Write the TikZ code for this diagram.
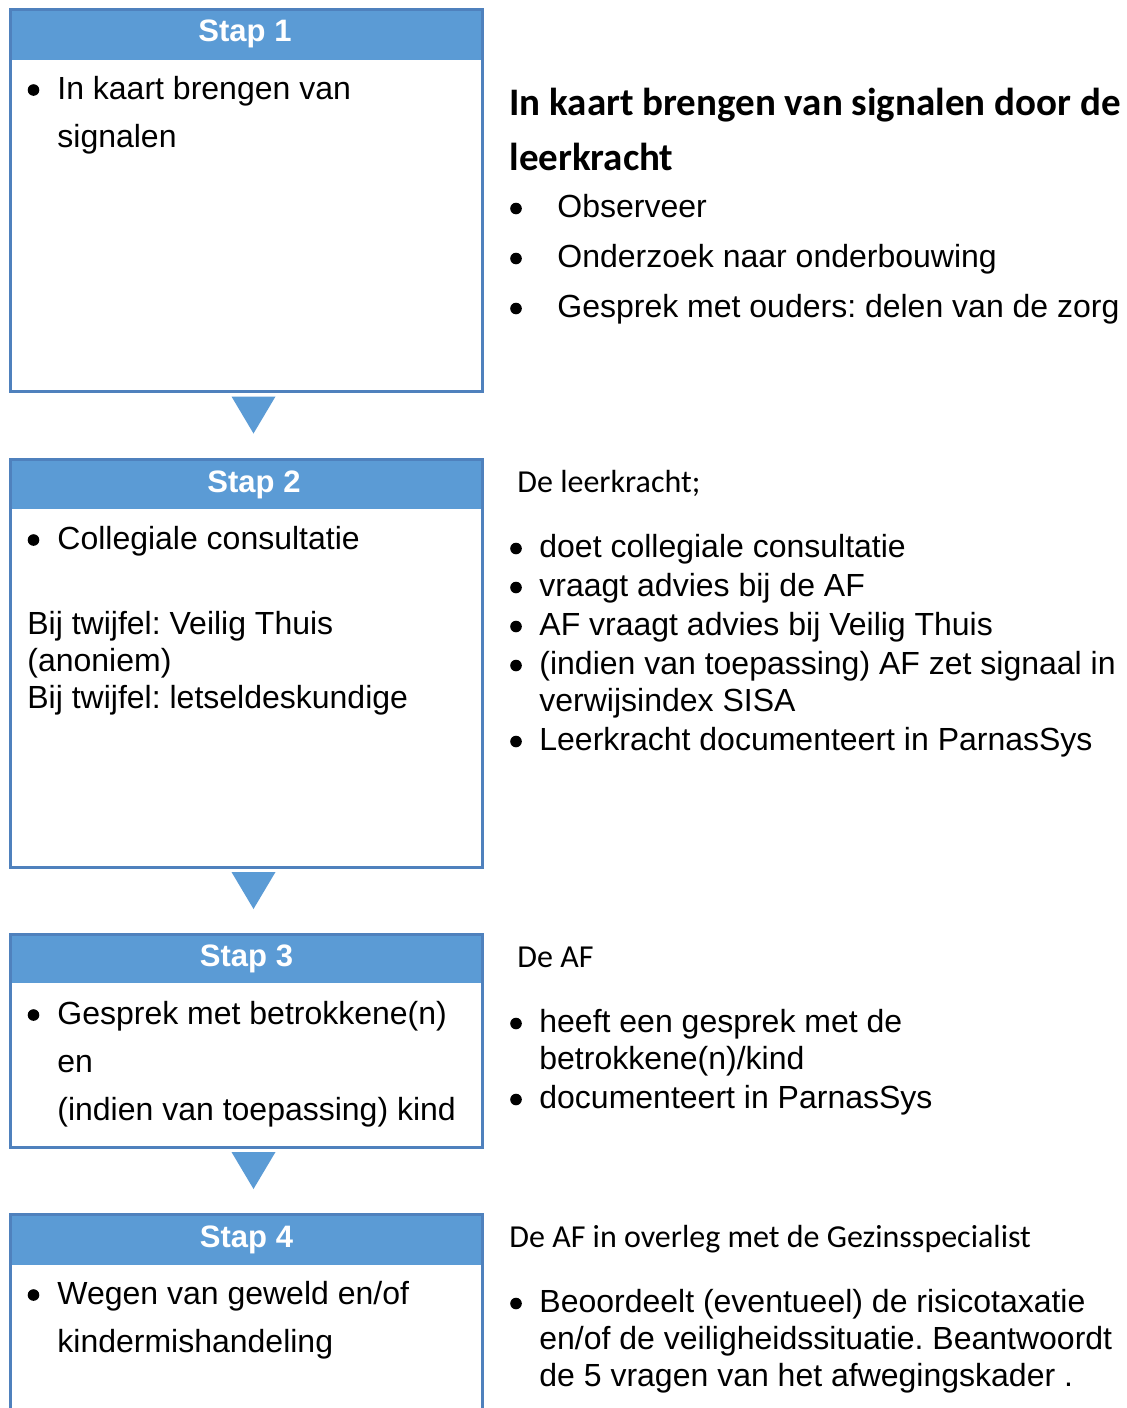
\documentclass[tikz,border=0pt]{standalone}
\usepackage{fontspec}
\setmainfont{Liberation Sans}
\newfontfamily\calibri{Carlito}
\frenchspacing
\usetikzlibrary{fit, calc}

\definecolor{kopblauw}{HTML}{5B9BD5}
\definecolor{randblauw}{HTML}{4F81BD}

\tikzset{
    stapbox/.style = {draw=randblauw, line width=1.5pt, inner sep=0pt},
    kopbalk/.style = {fill=kopblauw, inner sep=0pt},
    koptekst/.style = {anchor=base, text=white, inner sep=0pt, font=\bfseries\fontsize{15.5}{18}\selectfont},
    regel/.style = {anchor=base west, inner sep=0pt, font=\fontsize{16}{19}\selectfont},
    bolletje/.style = {circle, fill=black, inner sep=0pt, minimum size=5.8pt},
    cal/.style = {anchor=base west, inner sep=0pt, font=\calibri\fontsize{16}{19}\selectfont},
    calkop/.style = {anchor=base west, inner sep=0pt, font=\calibri\bfseries\fontsize{19.5}{23}\selectfont},
    pijl/.style = {fill=kopblauw},
}

\begin{document}
\begin{tikzpicture}[x=0.5pt, y=-0.5pt]
    \useasboundingbox (0,0) rectangle (1127,1408);
    \fill[white] (0,0) rectangle (1127,1408);
    \clip (0,0) rectangle (1127,1408);

    % stappen links
    \node[kopbalk, fit={(10,9) (482,60)}] (kop1) {};
    \node[stapbox, fit={(10,9) (482,391)}] (box1) {};
    \node[kopbalk, fit={(10,459) (482,509)}] (kop2) {};
    \node[stapbox, fit={(10,459) (482,867)}] (box2) {};
    \node[kopbalk, fit={(10,934) (482,983)}] (kop3) {};
    \node[stapbox, fit={(10,934) (482,1147)}] (box3) {};
    \node[kopbalk, fit={(10,1214) (482,1265)}] (kop4) {};
    \node[stapbox, fit={(10,1214) (482,1440)}] (box4) {};

    \node[koptekst] (stap1) at (245,41) {Stap 1};
    \node[koptekst] (stap2) at (254,492) {Stap 2};
    \node[koptekst] (stap3) at (246.5,966) {Stap 3};
    \node[koptekst] (stap4) at (246.5,1247) {Stap 4};

    % pijlen tussen de stappen
    \fill[pijl] ($(box1.south)+(-14.5,4)$) -- ($(box1.south)+(29.5,4)$) -- ($(box1.south)+(7.5,41)$) -- cycle;
    \fill[pijl] ($(box2.south)+(-14.5,3.5)$) -- ($(box2.south)+(29.5,3.5)$) -- ($(box2.south)+(7.5,40.5)$) -- cycle;
    \fill[pijl] ($(box3.south)+(-14.5,3.5)$) -- ($(box3.south)+(29.5,3.5)$) -- ($(box3.south)+(7.5,40.5)$) -- cycle;

    % tekst in de stappen
    \node[bolletje] (b1a) at (33.5,90) {};
    \node[regel] (l1a) at (57,99) {In kaart brengen van};
    \node[regel] (l1b) at (57,147) {signalen};

    \node[bolletje] (b2a) at (33.5,540) {};
    \node[regel] (l2a) at (57,549) {Collegiale consultatie};
    \node[regel] (l2b) at (27,634) {Bij twijfel: Veilig Thuis};
    \node[regel] (l2c) at (27,671) {(anoniem)};
    \node[regel] (l2d) at (27,708) {Bij twijfel: letseldeskundige};

    \node[bolletje] (b3a) at (33.5,1015) {};
    \node[regel] (l3a) at (57,1024) {Gesprek met betrokkene(n)};
    \node[regel] (l3b) at (57,1072) {en};
    \node[regel] (l3c) at (57,1120) {(indien van toepassing) kind};

    \node[bolletje] (b4a) at (33.5,1295) {};
    \node[regel] (l4a) at (57,1304) {Wegen van geweld en/of};
    \node[regel] (l4b) at (57,1352) {kindermishandeling};

    % toelichting rechts
    \node[calkop] (r1a) at (509,115.5) {In kaart brengen van signalen door de};
    \node[calkop] (r1b) at (509,170) {leerkracht};
    \node[bolletje] (rb1a) at (516,208.5) {};
    \node[regel] (r1c) at (557,217) {Observeer};
    \node[bolletje] (rb1b) at (516,258.5) {};
    \node[regel] (r1d) at (557,267) {Onderzoek naar onderbouwing};
    \node[bolletje] (rb1c) at (516,308.5) {};
    \node[regel] (r1e) at (557,317) {Gesprek met ouders: delen van de zorg};

    \node[cal] (r2a) at (517,492) {De leerkracht;};
    \node[bolletje] (rb2a) at (516,548.5) {};
    \node[regel] (r2b) at (539,557) {doet collegiale consultatie};
    \node[bolletje] (rb2b) at (516,587.5) {};
    \node[regel] (r2c) at (539,596) {vraagt advies bij de AF};
    \node[bolletje] (rb2c) at (516,626.5) {};
    \node[regel] (r2d) at (539,635) {AF vraagt advies bij Veilig Thuis};
    \node[bolletje] (rb2d) at (516,665.5) {};
    \node[regel] (r2e) at (539,674) {(indien van toepassing) AF zet signaal in};
    \node[regel] (r2f) at (539,711) {verwijsindex SISA};
    \node[bolletje] (rb2e) at (516,741.5) {};
    \node[regel] (r2g) at (539,750) {Leerkracht documenteert in ParnasSys};

    \node[cal] (r3a) at (517,967) {De AF};
    \node[bolletje] (rb3a) at (516,1023.5) {};
    \node[regel] (r3b) at (539,1032) {heeft een gesprek met de};
    \node[regel] (r3c) at (539,1069) {betrokkene(n)/kind};
    \node[bolletje] (rb3b) at (516,1099.5) {};
    \node[regel] (r3d) at (539,1108) {documenteert in ParnasSys};

    \node[cal] (r4a) at (509,1247) {De AF in overleg met de Gezinsspecialist};
    \node[bolletje] (rb4a) at (516,1303.5) {};
    \node[regel] (r4b) at (539,1312) {Beoordeelt (eventueel) de risicotaxatie};
    \node[regel] (r4c) at (539,1349) {en/of de veiligheidssituatie. Beantwoordt};
    \node[regel] (r4d) at (539,1386) {de 5 vragen van het afwegingskader .};
\end{tikzpicture}
\end{document}
